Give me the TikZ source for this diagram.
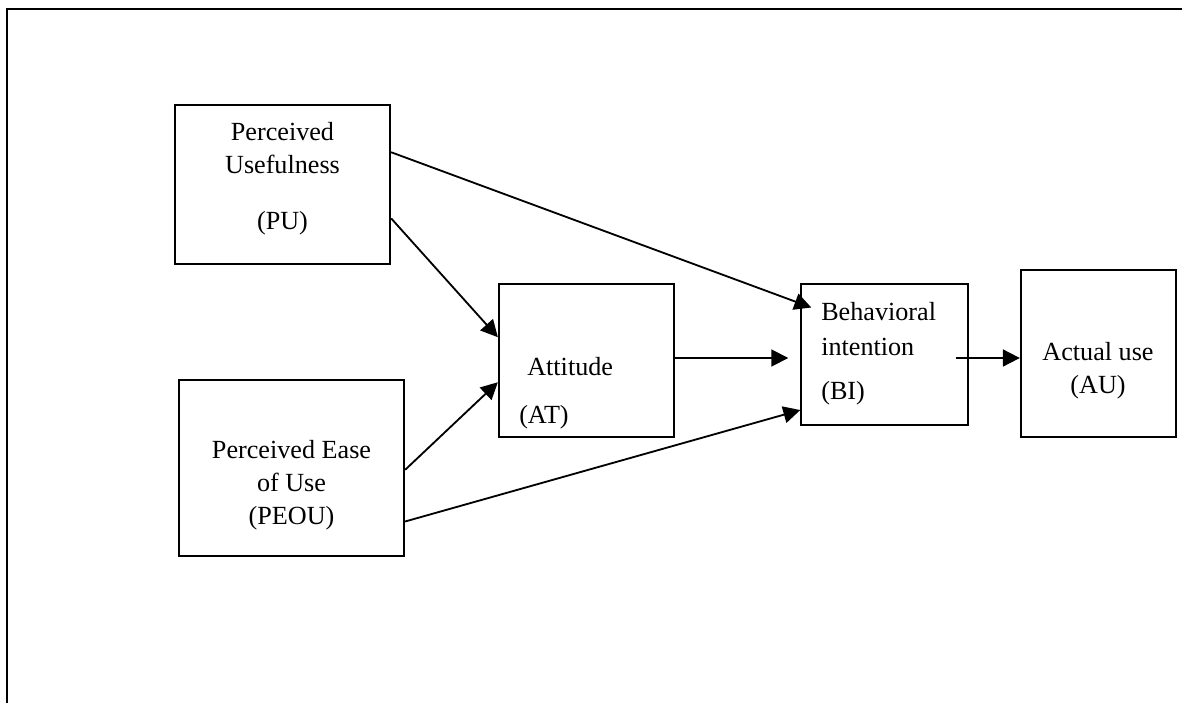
\documentclass[tikz,border=0pt]{standalone}
\usepackage{fontspec}
\setmainfont{Liberation Serif}
\usepackage{tikz}
\usetikzlibrary{arrows.meta, positioning, calc}

\begin{document}
\begin{tikzpicture}[
        x=0.025cm, y=-0.025cm,
        box/.style={rectangle, draw, line width=1.6pt, inner sep=0pt},
        label text/.style={inner sep=0pt, font=\fontsize{18.6}{23.5}\selectfont},
        arrow/.style={-{Triangle[length=12pt, width=12pt]}, line width=1.3pt}
    ]
        \useasboundingbox (0,0) rectangle (1182,703);
        % Frame
        \draw[line width=2pt] (7,703) -- (7,9) -- (1182,9);

        % Nodes
        \node[box, minimum width=5.375cm, minimum height=3.975cm] (PU) at (282.5,184.5) {};
        \node[box, minimum width=5.625cm, minimum height=4.4cm] (PEOU) at (291.5,468) {};
        \node[box, minimum width=4.375cm, minimum height=3.825cm] (AT) at (586.5,360.5) {};
        \node[box, line width=1pt, minimum width=4.175cm, minimum height=3.525cm] (BI) at (884.5,354.5) {};
        \node[box, minimum width=3.875cm, minimum height=4.175cm] (AU) at (1098.5,353.5) {};

        % Texts
        \node[label text, anchor=north, align=center] (PUtext) at (282.5,122) {Perceived\\Usefulness\\[16.3pt](PU)};
        \node[label text, anchor=north, align=center] (PEOUtext) at (291.5,440) {Perceived Ease\\of Use\\(PEOU)};
        \node[label text, anchor=north west, align=left] (ATtext) at (519,357) {\hspace{5.7pt}Attitude\\[10.6pt](AT)};
        \node[label text, anchor=north west, align=left] (BItext) at (821,302) {Behavioral\\[1.4pt]intention\\[7.8pt](BI)};
        \node[label text, anchor=north, align=center] (AUtext) at (1098,342) {Actual use\\(AU)};

        % Arrows
        \draw[arrow] ($(PU.north east)!0.30!(PU.south east)$) -- ($(BI.north west)!0.17!(BI.south west)+(11,0)$);
        \draw[arrow] ($(PU.north east)!0.71!(PU.south east)$) -- ($(AT.north west)!0.35!(AT.south west)$);
        \draw[arrow] ($(PEOU.north east)!0.51!(PEOU.south east)$) -- ($(AT.north west)!0.64!(AT.south west)$);
        \draw[arrow] ($(PEOU.north east)!0.80!(PEOU.south east)$) -- ($(BI.north west)!0.89!(BI.south west)$);
        \draw[arrow] ($(AT.east)+(0,-2.5)$) -- ($(BI.west |- AT.east)+(-12,-2.5)$);
        \draw[arrow] ($(BI.east)+(-13,3.5)$) -- ($(AU.west)+(0,4.5)$);
    \end{tikzpicture}
\end{document}
